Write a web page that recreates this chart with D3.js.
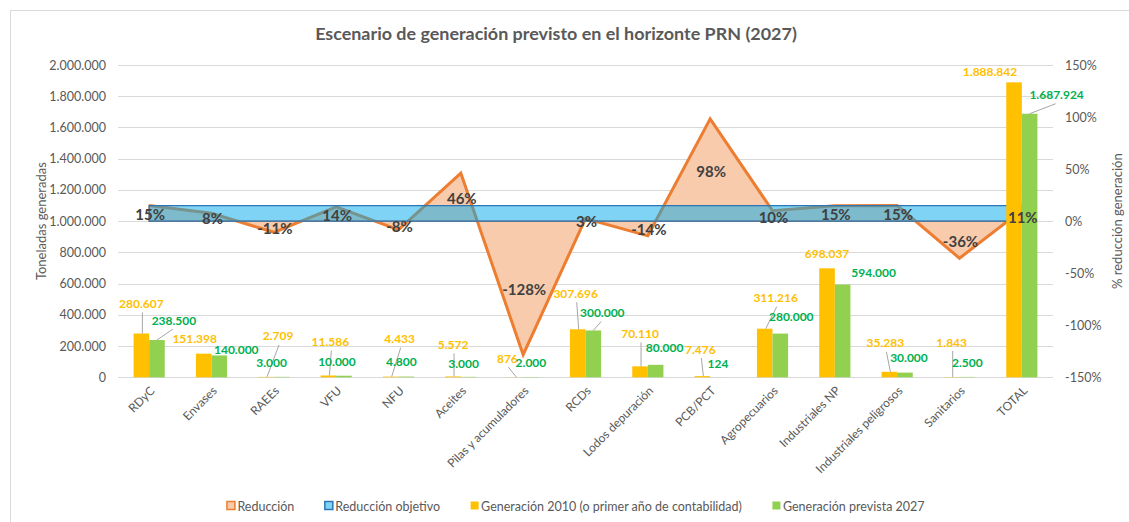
<!DOCTYPE html>
<html><head><meta charset="utf-8">
<script src="https://cdn.jsdelivr.net/npm/d3@7"></script>
<style>
html,body{margin:0;padding:0;background:#fff;}
svg{display:block;font-family:Lato,"Open Sans",sans-serif;}
</style></head><body>
<svg id="chart" width="1129" height="522"></svg>
<script>
// ---------- data ----------
const categories = ["RDyC","Envases","RAEEs","VFU","NFU","Aceites","Pilas y acumuladores","RCDs","Lodos depuración","PCB/PCT","Agropecuarios","Industriales NP","Industriales peligrosos","Sanitarios","TOTAL"];
const gen2010 = [280607,151398,2709,11586,4433,5572,876,307696,70110,7476,311216,698037,35283,1843,1888842];
const gen2027 = [238500,140000,3000,10000,4800,3000,2000,300000,80000,124,280000,594000,30000,2500,1687924];
const reduccion = [15.0,7.5,-10.7,13.7,-8.3,46.2,-128.3,2.5,-14.1,98.3,10.0,14.9,15.0,-35.6,10.6];
const reduccionObjetivo = [15,15,15,15,15,15,15,15,15,15,15,15,15,15,15];
const leftTicks = [0,200000,400000,600000,800000,1000000,1200000,1400000,1600000,1800000,2000000];
const rightTicks = [-150,-100,-50,0,50,100,150];
const seriesNames = ["Reducción","Reducción objetivo","Generación 2010 (o primer año de contabilidad)","Generación prevista 2027"];

// ---------- label layout (offsets of label centre from bar top centre) ----------
const oDx = [0,-9,12,2,9,0,-8,-2,0,-2,11,0,-4,0,-24];
const oDy = [-30,-15,-41,-34,-38,-32,-19,-36,-33,-27,-31,-15,-29,-35,-11];
const oLeader = [1,0,1,1,1,1,1,1,1,1,1,0,1,1,0];
const gDx = [17,17,-10,-7,-5,-5,0,9,9,0,11,31,4,0,27];
const gDy = [-20,-6,-14,-14,-15,-13,-14,-18,-17,-14,-17,-12,-15,-14,-19];
const gLeader = [1,0,0,0,0,0,0,1,0,0,0,0,0,0,1];

// ---------- setup ----------
const svg = d3.select("#chart");
const W = 1129, H = 522;
const plot = {l:118, r:1053, t:65, b:377.3};
const axisColor = "#595959";
const loc = d3.formatLocale({decimal:",", thousands:".", grouping:[3], currency:["","€"]});
const fmt = loc.format(",d");

const x = d3.scaleBand().domain(categories).range([plot.l, plot.r]).paddingInner(0).paddingOuter(0);
const bw = x.bandwidth();
const xSub = d3.scaleBand().domain(["g2010","g2027"]).range([0,bw]).paddingInner(0).paddingOuter(1);
const yL = d3.scaleLinear().domain([0,2000000]).range([plot.b, plot.t]);
const yR = d3.scaleLinear().domain([-150,150]).range([plot.b, plot.t]);
const cx = c => x(c) + bw/2;

// outer chart border (partial, as in the screenshot)
svg.append("line").attr("x1",11).attr("x2",W).attr("y1",10.5).attr("y2",10.5).attr("stroke","#D9D9D9");
svg.append("line").attr("x1",10.5).attr("x2",10.5).attr("y1",10).attr("y2",H).attr("stroke","#D9D9D9");

// title
const title = svg.append("text").attr("x",556).attr("y",33)
  .attr("text-anchor","middle").attr("dominant-baseline","central")
  .attr("fill",axisColor).attr("font-weight","bold").attr("font-size",19)
  .text("Escenario de generación previsto en el horizonte PRN (2027)");
{
  const w = title.node().getComputedTextLength();
  title.attr("font-size", 19*482/w);
}

// gridlines
svg.append("g").selectAll("line").data(leftTicks).join("line")
  .attr("x1",plot.l).attr("x2",plot.r)
  .attr("y1",d=>Math.round(yL(d))+0.5).attr("y2",d=>Math.round(yL(d))+0.5)
  .attr("stroke","#D9D9D9").attr("stroke-width",1);

// left axis
const gL = svg.append("g").attr("transform",`translate(${plot.l},0)`)
  .call(d3.axisLeft(yL).tickValues(leftTicks).tickFormat(fmt).tickSize(0).tickPadding(12));
gL.select(".domain").remove();
gL.selectAll("text").attr("fill",axisColor).attr("font-size",12.5).attr("font-family","Lato");

// right axis
const gR = svg.append("g").attr("transform",`translate(${plot.r},0)`)
  .call(d3.axisRight(yR).tickValues(rightTicks).tickFormat(d=>d+"%").tickSize(0).tickPadding(12));
gR.select(".domain").remove();
gR.selectAll("text").attr("fill",axisColor).attr("font-size",12.5).attr("font-family","Lato");

// axis titles
svg.append("text").attr("transform",`translate(41,${(plot.t+plot.b)/2}) rotate(-90)`)
  .attr("text-anchor","middle").attr("dominant-baseline","central")
  .attr("fill",axisColor).attr("font-size",13).text("Toneladas generadas");
svg.append("text").attr("transform",`translate(1117,${(plot.t+plot.b)/2}) rotate(-90)`)
  .attr("text-anchor","middle").attr("dominant-baseline","central")
  .attr("fill",axisColor).attr("font-size",13).text("% reducción generación");

// x axis
const gX = svg.append("g").attr("transform",`translate(0,${plot.b})`)
  .call(d3.axisBottom(x).tickSize(0).tickPadding(0));
gX.select(".domain").remove();
gX.selectAll("text")
  .attr("fill",axisColor).attr("font-size",12).attr("font-family","Lato")
  .attr("text-anchor","end").attr("dy",null).attr("y",0)
  .attr("transform","translate(3,11) rotate(-45)")
  .attr("dominant-baseline","central");

// Reducción area (orange)
const redData = categories.map((c,i)=>({c, v:reduccion[i]}));
const area = d3.area().x(d=>cx(d.c)).y0(yR(0)).y1(d=>yR(d.v));
const line = d3.line().x(d=>cx(d.c)).y(d=>yR(d.v));
svg.append("path").datum(redData).attr("d",area)
  .attr("fill","#F8CBAD").attr("stroke","#ED7D31").attr("stroke-width",1.5);
svg.append("path").datum(redData).attr("d",line)
  .attr("fill","none").attr("stroke","#ED7D31").attr("stroke-width",3).attr("stroke-linejoin","miter");

// Reducción objetivo band (blue, translucent)
const objData = categories.map((c,i)=>({c, v:reduccionObjetivo[i]}));
svg.append("path").datum(objData).attr("d",area)
  .attr("fill","rgb(0,169,235)").attr("fill-opacity",0.5)
  .attr("stroke","#2E75B6").attr("stroke-width",1.2);

// bars
const gb = svg.append("g");
categories.forEach((c,i)=>{
  gb.append("rect").attr("x",x(c)+xSub("g2010")).attr("width",xSub.bandwidth())
    .attr("y",yL(gen2010[i])).attr("height",yL(0)-yL(gen2010[i])).attr("fill","#FFC000");
  gb.append("rect").attr("x",x(c)+xSub("g2027")).attr("width",xSub.bandwidth())
    .attr("y",yL(gen2027[i])).attr("height",yL(0)-yL(gen2027[i])).attr("fill","#92D050");
});

// reduction labels (centre of area between point and baseline)
svg.append("g").selectAll("text").data(redData).join("text")
  .attr("x",d=>cx(d.c)+1).attr("y",d=>(yR(d.v)+yR(0))/2+1)
  .attr("text-anchor","middle").attr("dominant-baseline","central")
  .attr("fill","#404040").attr("font-weight","bold").attr("font-size",15)
  .text(d=>Math.round(d.v)+"%");

// bar labels + leader lines
const gLab = svg.append("g");
categories.forEach((c,i)=>{
  const ox = x(c)+xSub("g2010")+xSub.bandwidth()/2, oy = yL(gen2010[i]);
  const gx = x(c)+xSub("g2027")+xSub.bandwidth()/2, gy = yL(gen2027[i]);
  const olx = ox+oDx[i], oly = oy+oDy[i];
  const glx = gx+gDx[i], gly = gy+gDy[i];
  if (oLeader[i]) gLab.append("line").attr("x1",olx+1).attr("y1",oly+9).attr("x2",ox+1).attr("y2",oy)
    .attr("stroke","#A6A6A6").attr("stroke-width",1);
  if (gLeader[i]) gLab.append("line").attr("x1",glx-1).attr("y1",gly+9).attr("x2",gx).attr("y2",gy)
    .attr("stroke","#A6A6A6").attr("stroke-width",1);
  gLab.append("text").attr("x",olx).attr("y",oly).attr("text-anchor","middle").attr("dominant-baseline","central")
    .attr("fill","#FFC000").attr("font-weight","bold").attr("font-size",12).text(fmt(gen2010[i]));
  gLab.append("text").attr("x",glx).attr("y",gly).attr("text-anchor","middle").attr("dominant-baseline","central")
    .attr("fill","#00B050").attr("font-weight","bold").attr("font-size",12).text(fmt(gen2027[i]));
});

// legend
const legItems = [
  {name:seriesNames[0], fill:"#F8CBAD", stroke:"#ED7D31"},
  {name:seriesNames[1], fill:"#7FD3F5", stroke:"#2E75B6"},
  {name:seriesNames[2], fill:"#FFC000", stroke:null},
  {name:seriesNames[3], fill:"#92D050", stroke:null}
];
const gLeg = svg.append("g");
let lx = 0;
const legY = 506;
legItems.forEach(it=>{
  const g = gLeg.append("g").attr("transform",`translate(${lx},0)`);
  g.append("rect").attr("x",0.5).attr("y",legY-4.5).attr("width",8).attr("height",8)
    .attr("fill",it.fill).attr("stroke",it.stroke||"none").attr("stroke-width",it.stroke?1.5:0);
  const t = g.append("text").attr("x",11).attr("y",legY).attr("dominant-baseline","central")
    .attr("fill",axisColor).attr("font-size",12.5).text(it.name);
  lx += 11 + t.node().getComputedTextLength() + 30;
});
lx -= 30;
gLeg.attr("transform",`translate(${575.5-lx/2},0)`);
</script>
</body></html>
